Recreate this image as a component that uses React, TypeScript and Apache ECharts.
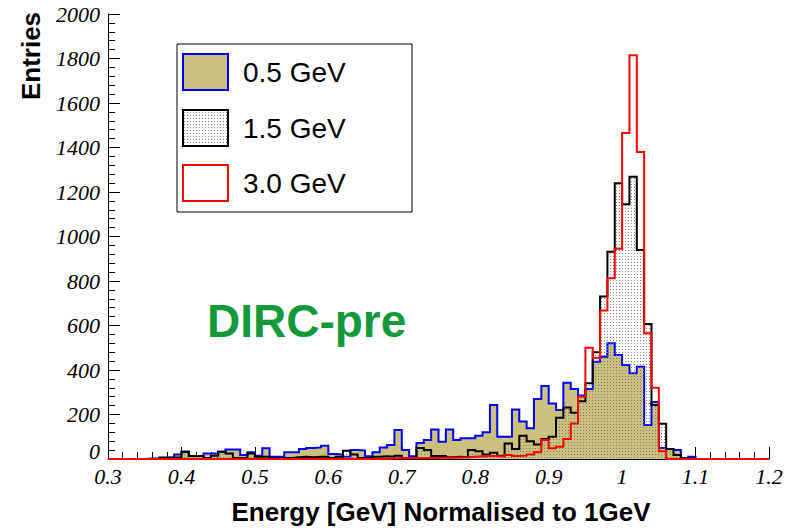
import React, { useEffect, useRef } from "react";
import * as echarts from "echarts";

// Histogram binning: 90 bins of width 0.01 from 0.30 to 1.20
const BIN_START = 0.3;
const BIN_WIDTH = 0.01;

const seriesNames = ["0.5 GeV", "1.5 GeV", "3.0 GeV"];

// 0.5 GeV (blue outline, khaki fill)
const entries05 = [
  0, 0, 0, 0, 0, 2, 3, 5, 7, 20,
  33, 13, 13, 25, 25, 33, 43, 43, 18, 30,
  15, 48, 10, 10, 30, 30, 45, 50, 52, 60,
  22, 20, 10, 40, 38, 12, 30, 52, 63, 130,
  40, 12, 72, 85, 133, 78, 133, 85, 93, 93,
  105, 120, 243, 100, 100, 223, 168, 138, 270, 328,
  250, 220, 343, 315, 285, 315, 437, 460, 520, 467,
  422, 385, 415, 153, 256, 50, 45, 40, 5, 10,
  0, 0, 0, 0, 0, 0, 0, 0, 0, 0,
];

// 1.5 GeV (black outline, dotted fill)
const entries15 = [
  0, 0, 0, 0, 0, 0, 0, 7, 7, 7,
  33, 13, 13, 5, 15, 33, 25, 5, 5, 25,
  10, 10, 3, 5, 5, 8, 10, 8, 10, 10,
  5, 10, 37, 20, 5, 5, 10, 12, 10, 15,
  5, 8, 50, 40, 13, 13, 8, 10, 8, 40,
  35, 20, 28, 15, 70, 45, 105, 80, 65, 90,
  100, 185, 232, 208, 260, 340, 480, 730, 932, 1239,
  1145, 1269, 939, 607, 243, 158, 45, 18, 3, 0,
  0, 0, 0, 0, 0, 0, 0, 0, 0, 0,
];

// 3.0 GeV (red outline, no fill)
const entries30 = [
  0, 0, 0, 0, 0, 0, 0, 0, 0, 0,
  0, 0, 0, 0, 0, 0, 0, 0, 0, 0,
  0, 0, 0, 0, 0, 0, 0, 0, 0, 0,
  0, 0, 0, 0, 0, 0, 0, 0, 2, 3,
  3, 4, 5, 5, 5, 6, 6, 7, 8, 10,
  12, 13, 13, 10, 18, 13, 15, 20, 30, 85,
  48, 55, 90, 160, 280, 500, 455, 667, 812, 945,
  1465, 1815, 1380, 565, 320, 35, 0, 0, 0, 0,
  0, 0, 0, 0, 0, 0, 0, 0, 0, 0,
];

const KHAKI = "#cbc07c";

function toSteps(vals: number[]) {
  const pts: number[][] = vals.map((v, i) => [
    +(BIN_START + BIN_WIDTH * i).toFixed(2),
    v,
  ]);
  pts.push([+(BIN_START + BIN_WIDTH * vals.length).toFixed(2), vals[vals.length - 1]]);
  return pts;
}

function makeDots() {
  const c = document.createElement("canvas");
  c.width = 3;
  c.height = 3;
  const ctx = c.getContext("2d");
  if (ctx) {
    ctx.fillStyle = "rgba(110,110,110,0.85)";
    ctx.fillRect(1, 1, 1, 1);
  }
  return { image: c, repeat: "repeat", imageWidth: 3, imageHeight: 3 };
}

export default function App() {
  const ref = useRef<HTMLDivElement>(null);

  useEffect(() => {
    if (!ref.current) return;
    const chart = echarts.init(ref.current, null, { renderer: "svg" });
    const dots: any = makeDots();
    const legendRows = [
      { y: 54, fill: KHAKI, stroke: "#0000ff" },
      { y: 110, fill: dots, stroke: "#000000" },
      { y: 165, fill: "#ffffff", stroke: "#ff0000" },
    ];
    const legendGraphics: any[] = [
      {
        type: "rect",
        shape: { x: 177, y: 44, width: 235, height: 168 },
        style: { fill: "#fff", stroke: "#000", lineWidth: 1 },
        z: 10,
      },
    ];
    legendRows.forEach((r, i) => {
      legendGraphics.push({
        type: "rect",
        shape: { x: 183, y: r.y, width: 45, height: 36 },
        style: { fill: r.fill, stroke: r.stroke, lineWidth: 2 },
        z: 11,
      });
      legendGraphics.push({
        type: "text",
        x: 243,
        y: r.y + 18,
        style: {
          text: seriesNames[i],
          font: "28px 'Liberation Sans'",
          fill: "#000",
          verticalAlign: "middle",
          align: "left",
        },
        z: 11,
      });
    });

    const tickFont = {
      fontFamily: "Liberation Serif",
      fontStyle: "italic",
      fontSize: 22,
      color: "#000",
    };

    chart.setOption({
      animation: false,
      grid: { left: 108, right: 24, top: 14, bottom: 70, containLabel: false },
      xAxis: {
        type: "value",
        min: 0.3,
        max: 1.2,
        interval: 0.1,
        axisLine: { show: true, lineStyle: { color: "#000", width: 1 } },
        axisTick: { show: true, inside: true, length: 12, lineStyle: { color: "#000" } },
        minorTick: { show: true, splitNumber: 5, length: 7, lineStyle: { color: "#000" } },
        splitLine: { show: false },
        axisLabel: {
          fontFamily: "Liberation Serif",
          fontStyle: "italic",
          fontSize: 22,
          color: "#000",
          margin: 6,
          showMinLabel: true,
          showMaxLabel: true,
          formatter: (v: number) => String(+v.toFixed(1)),
        },
      },
      yAxis: {
        type: "value",
        min: 0,
        max: 2000,
        interval: 200,
        axisLine: { show: true, lineStyle: { color: "#000", width: 1 } },
        axisTick: { show: true, inside: true, length: 12, lineStyle: { color: "#000" } },
        minorTick: { show: true, splitNumber: 5, length: 7, lineStyle: { color: "#000" } },
        splitLine: { show: false },
        axisLabel: {
          fontFamily: "Liberation Serif",
          fontStyle: "italic",
          fontSize: 22,
          color: "#000",
          margin: 8,
          formatter: (v: number) => (v === 0 ? "{z|0}" : String(Math.round(v))),
          rich: { z: { ...tickFont, padding: [0, 0, 16, 0] } },
        },
      },
      series: [
        {
          name: seriesNames[0],
          type: "line",
          step: "end",
          symbol: "none",
          data: toSteps(entries05),
          lineStyle: { color: "#0000ff", width: 2, join: "miter" },
          areaStyle: { color: KHAKI, opacity: 1 },
          z: 2,
        },
        {
          name: seriesNames[1],
          type: "line",
          step: "end",
          symbol: "none",
          data: toSteps(entries15),
          lineStyle: { color: "#000000", width: 2, join: "miter" },
          areaStyle: { color: dots, opacity: 1 },
          z: 3,
        },
        {
          name: seriesNames[2],
          type: "line",
          step: "end",
          symbol: "none",
          data: toSteps(entries30),
          lineStyle: { color: "#ff0000", width: 2, join: "miter" },
          z: 4,
        },
      ],
      graphic: [
        ...legendGraphics,
        {
          type: "text",
          x: 207,
          y: 321,
          style: {
            text: "DIRC-pre",
            font: "bold 46px 'Liberation Sans'",
            fill: "#12993a",
            verticalAlign: "middle",
            align: "left",
          },
          z: 12,
        },
        {
          type: "text",
          x: 441,
          y: 512,
          style: {
            text: "Energy [GeV] Normalised to 1GeV",
            font: "bold 26px 'Liberation Sans'",
            fill: "#000",
            verticalAlign: "middle",
            align: "center",
          },
        },
        {
          type: "text",
          x: 31,
          y: 56,
          rotation: Math.PI / 2,
          style: {
            text: "Entries",
            font: "bold 26px 'Liberation Sans'",
            fill: "#000",
            verticalAlign: "middle",
            align: "center",
          },
        },
      ],
    });
    return () => chart.dispose();
  }, []);

  return (
    <div
      ref={ref}
      style={{ position: "absolute", left: 0, top: 0, width: 793, height: 529, background: "#fff" }}
    />
  );
}
